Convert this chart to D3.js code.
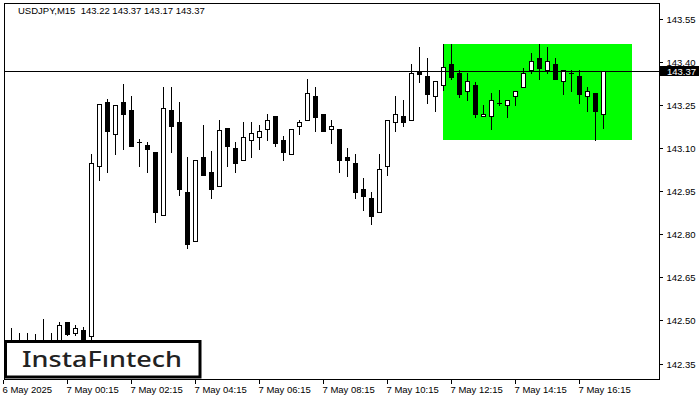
<!DOCTYPE html>
<html><head><meta charset="utf-8">
<script src="https://cdn.jsdelivr.net/npm/d3@7"></script>
<style>body{margin:0;background:#fff}svg{display:block}</style>
</head><body><svg id="c" width="700" height="400"></svg>
<script>
const title = "USDJPY,M15  143.22 143.37 143.17 143.37";
const logoText = "InstaF\u0131ntech";
const open  = [142.418,142.410,142.415,142.420,142.412,142.425,142.420,142.493,142.455,142.465,
               142.444,143.037,143.259,143.150,143.259,143.232,143.121,143.109,143.088,142.867,
               143.232,143.191,142.948,142.775,143.070,143.018,142.969,143.169,143.099,143.059,
               143.129,143.140,143.168,143.211,143.129,143.080,143.177,143.199,143.281,143.220,
               143.166,143.168,143.070,143.049,142.958,142.927,142.876,143.037,143.189,143.211,
               143.199,143.369,143.350,143.280,143.321,143.391,143.360,143.299,143.321,143.210,
               143.210,143.257,143.250,143.280,143.311,143.372,143.412,143.372,143.391,143.332,
               143.360,143.350,143.280,143.290,143.220];
const high  = [142.472,142.456,142.456,142.451,142.504,142.456,142.494,142.494,142.483,142.476,
               143.080,143.255,143.270,143.251,143.323,143.281,143.130,143.121,143.088,143.311,
               143.311,143.259,143.068,143.060,143.179,143.089,143.199,143.169,143.120,143.190,
               143.190,143.179,143.220,143.211,143.141,143.168,143.199,143.342,143.311,143.220,
               143.199,143.168,143.099,143.080,142.997,142.947,143.080,143.199,143.281,143.269,
               143.393,143.452,143.414,143.332,143.462,143.462,143.372,143.360,143.331,143.251,
               143.290,143.302,143.269,143.300,143.380,143.430,143.462,143.452,143.412,143.372,
               143.372,143.372,143.313,143.290,143.370];
const low   = [142.395,142.390,142.398,142.400,142.405,142.405,142.410,142.450,142.450,142.427,
               142.437,142.989,143.016,143.078,143.096,143.107,143.036,143.016,142.844,142.867,
               143.086,142.937,142.753,142.775,143.007,142.926,142.969,143.036,143.016,143.059,
               143.068,143.098,143.129,143.108,143.059,143.080,143.150,143.199,143.159,143.159,
               143.117,143.016,143.004,142.926,142.886,142.835,142.876,143.007,143.159,143.178,
               143.199,143.331,143.256,143.229,143.302,143.342,143.278,143.268,143.208,143.210,
               143.165,143.249,143.208,143.249,143.311,143.360,143.342,143.360,143.342,143.289,
               143.299,143.257,143.228,143.129,143.170];
const close = [142.410,142.415,142.420,142.412,142.433,142.420,142.483,142.452,142.472,142.435,
               143.049,143.252,143.159,143.251,143.220,143.107,143.121,143.096,142.876,143.241,
               143.177,142.958,142.765,143.060,143.007,142.958,143.162,143.107,143.047,143.139,
               143.151,143.161,143.199,143.117,143.086,143.168,143.189,143.290,143.208,143.159,
               143.178,143.059,143.058,142.946,142.934,142.865,143.028,143.199,143.220,143.189,
               143.360,143.359,143.289,143.332,143.381,143.348,143.289,143.332,143.219,143.220,
               143.269,143.257,143.269,143.300,143.360,143.402,143.380,143.402,143.342,143.372,
               143.360,143.289,143.300,143.229,143.370];
const xTickIndex  = [-1, 7, 15, 23, 31, 39, 47, 55, 63, 71];
const xTickLabels = ["6 May 2025","7 May 00:15","7 May 02:15","7 May 04:15","7 May 06:15",
                     "7 May 08:15","7 May 10:15","7 May 12:15","7 May 14:15","7 May 16:15"];
const yTicks = [142.35,142.50,142.65,142.80,142.95,143.10,143.25,143.40,143.55];
const lastPrice = 143.37;
const patternStartIndex = 54, patternEndIndex = 77.5;
const patternTop = 143.462, patternBottom = 143.129;

const svg = d3.select("#c");
const L = 4, R = 659, T = 3, B = 379;
const x = d3.scaleLinear().domain([-0.9375, 80.9375]).range([L, R]);
const y = d3.scaleLinear().domain([142.35, 143.55]).range([363.5, 18.8]);
const FONT = "'Liberation Sans', Arial, sans-serif";

svg.append("rect").attr("width",700).attr("height",400).attr("fill","#fff");

const clip = svg.append("defs").append("clipPath").attr("id","pc")
  .append("rect").attr("x",L).attr("y",T).attr("width",R-L).attr("height",B-T);
const plot = svg.append("g").attr("clip-path","url(#pc)").attr("shape-rendering","crispEdges");

// pattern rectangle
plot.append("rect")
  .attr("x", Math.floor(x(patternStartIndex)))
  .attr("y", Math.round(y(patternTop)))
  .attr("width", Math.round(x(patternEndIndex)) - Math.floor(x(patternStartIndex)))
  .attr("height", Math.round(y(patternBottom)) - Math.round(y(patternTop)))
  .attr("fill", "#00ff00");

// candles
const data = open.map((o,i)=>({i,o,h:high[i],l:low[i],c:close[i]}));
const g = plot.append("g");
data.forEach(d=>{
  const cx = Math.floor(x(d.i)) + 0.5;
  const yh = Math.round(y(d.h)), yl = Math.round(y(d.l));
  g.append("line").attr("x1",cx).attr("x2",cx).attr("y1",yh).attr("y2",yl+1)
    .attr("stroke","#000").attr("stroke-width",1);
  const top = Math.round(y(Math.max(d.o,d.c))), bot = Math.round(y(Math.min(d.o,d.c)));
  if (bot - top < 1) {
    g.append("line").attr("x1",cx-2.5).attr("x2",cx+2.5).attr("y1",top+0.5).attr("y2",top+0.5)
      .attr("stroke","#000");
  } else if (d.c >= d.o) {
    g.append("rect").attr("x",cx-2).attr("y",top+0.5).attr("width",4).attr("height",Math.max(bot-top,1))
      .attr("fill","#fff").attr("stroke","#000").attr("stroke-width",1);
  } else {
    g.append("rect").attr("x",cx-2.5).attr("y",top).attr("width",5).attr("height",Math.max(bot-top+1,1))
      .attr("fill","#000");
  }
});

// current price line
const yp = Math.round(y(lastPrice)) + 0.5;
plot.append("line").attr("x1",L).attr("x2",R).attr("y1",yp).attr("y2",yp)
  .attr("stroke","#000").attr("stroke-width",1);

// frame
svg.append("rect").attr("x",L+0.5).attr("y",T+0.5).attr("width",R-L).attr("height",B-T)
  .attr("fill","none").attr("stroke","#000").attr("shape-rendering","crispEdges");

// y axis
const yAxis = d3.axisRight(y).tickValues(yTicks).tickSize(3).tickPadding(4)
  .tickFormat(d3.format(".2f"));
const ga = svg.append("g").attr("transform",`translate(${R+0.5},0)`).call(yAxis);
ga.select(".domain").remove();
ga.selectAll("line").attr("stroke","#000").attr("shape-rendering","crispEdges");
ga.selectAll("text").attr("font-family",FONT).attr("font-size","9.5px").attr("fill","#000");
ga.selectAll(".tick").attr("transform", d=>`translate(0,${Math.round(y(d))+0.5})`);

// x axis
const xAxis = d3.axisBottom(x).tickValues(xTickIndex).tickSize(4).tickPadding(3)
  .tickFormat((d,k)=>xTickLabels[k]);
const gx = svg.append("g").attr("transform",`translate(0,${B+0.5})`).call(xAxis);
gx.select(".domain").remove();
gx.selectAll("line").attr("stroke","#000").attr("shape-rendering","crispEdges");
gx.selectAll(".tick").attr("transform", d=>`translate(${Math.floor(x(d))+0.5},0)`);
gx.selectAll("text").attr("font-family",FONT).attr("font-size","9.5px").attr("fill","#000")
  .attr("text-anchor","start").attr("x",-1);

// last price label
svg.append("rect").attr("x",R+1).attr("y",Math.round(y(lastPrice))-5).attr("width",39).attr("height",10)
  .attr("fill","#000");
svg.append("text").attr("x",R+8).attr("y",Math.round(y(lastPrice))+0.5).attr("dy","0.35em")
  .attr("font-family",FONT).attr("font-size","9.5px").attr("fill","#fff")
  .text(d3.format(".2f")(lastPrice));

// title
svg.append("text").attr("x",18).attr("y",11).attr("dy","0.35em")
  .attr("font-family",FONT).attr("font-size","9.5px").attr("fill","#000")
  .style("white-space","pre").text(title);

// logo
svg.append("rect").attr("x",5.5).attr("y",341.5).attr("width",194.5).attr("height",35.5)
  .attr("fill","#fff").attr("stroke","#000").attr("stroke-width",3);
svg.append("text").attr("x",22).attr("y",367).attr("font-family","'Noto Sans', sans-serif")
  .attr("font-size","22.5px").attr("font-weight",500).attr("fill","#222")
  .attr("textLength",160).attr("lengthAdjust","spacingAndGlyphs").text(logoText);
</script></body></html>
